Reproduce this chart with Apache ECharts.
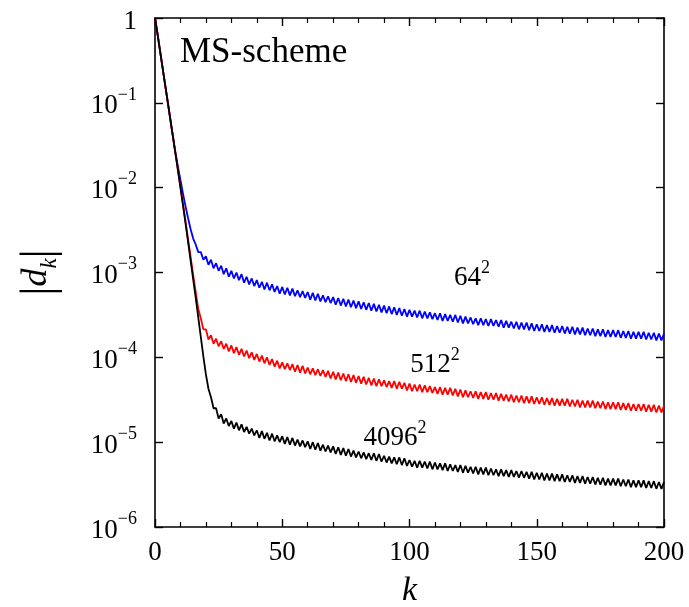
<!DOCTYPE html>
<html>
<head>
<meta charset="utf-8">
<script src="https://cdn.jsdelivr.net/npm/echarts@6/dist/echarts.min.js"></script>
<style>html,body{margin:0;padding:0;background:#fff}#c{width:689px;height:607px}</style>
</head>
<body>
<div id="c"></div>
<script>
// log10 |d_k|, k = 0..200
const log10Blue64 = [
  0,-0.19,-0.39,-0.59,-0.79,-0.99,-1.19,-1.39,-1.58,-1.75,
  -1.91,-2.07,-2.22,-2.36,-2.49,-2.60,-2.67,-2.76,-2.76,-2.85,
  -2.81,-2.91,-2.85,-2.95,-2.89,-2.98,-2.92,-3.02,-2.95,-3.05,
  -2.98,-3.07,-3.00,-3.09,-3.02,-3.12,-3.05,-3.14,-3.07,-3.16,
  -3.09,-3.18,-3.11,-3.20,-3.12,-3.21,-3.14,-3.23,-3.16,-3.25,
  -3.17,-3.26,-3.18,-3.27,-3.19,-3.28,-3.21,-3.29,-3.22,-3.30,
  -3.23,-3.32,-3.24,-3.33,-3.25,-3.34,-3.27,-3.35,-3.28,-3.36,
  -3.29,-3.38,-3.30,-3.39,-3.31,-3.40,-3.32,-3.41,-3.33,-3.42,
  -3.34,-3.43,-3.35,-3.44,-3.36,-3.45,-3.37,-3.46,-3.38,-3.47,
  -3.39,-3.48,-3.40,-3.49,-3.41,-3.50,-3.42,-3.51,-3.43,-3.52,
  -3.44,-3.52,-3.45,-3.53,-3.45,-3.54,-3.46,-3.54,-3.47,-3.55,
  -3.48,-3.56,-3.48,-3.57,-3.49,-3.57,-3.50,-3.58,-3.50,-3.59,
  -3.51,-3.60,-3.52,-3.60,-3.53,-3.61,-3.54,-3.62,-3.54,-3.62,
  -3.55,-3.63,-3.55,-3.63,-3.56,-3.64,-3.56,-3.65,-3.57,-3.65,
  -3.58,-3.66,-3.58,-3.67,-3.59,-3.67,-3.59,-3.68,-3.60,-3.69,
  -3.61,-3.69,-3.61,-3.70,-3.62,-3.70,-3.62,-3.71,-3.63,-3.71,
  -3.63,-3.72,-3.64,-3.72,-3.64,-3.73,-3.65,-3.73,-3.65,-3.74,
  -3.66,-3.74,-3.66,-3.75,-3.67,-3.75,-3.67,-3.76,-3.68,-3.76,
  -3.68,-3.76,-3.68,-3.77,-3.69,-3.77,-3.69,-3.78,-3.70,-3.78,
  -3.70,-3.78,-3.70,-3.79,-3.71,-3.79,-3.71,-3.80,-3.72,-3.80,
  -3.72
];
const log10Red512 = [
  0,-0.19,-0.39,-0.59,-0.79,-0.99,-1.19,-1.39,-1.59,-1.79,
  -1.99,-2.19,-2.40,-2.61,-2.82,-3.03,-3.23,-3.43,-3.54,-3.67,
  -3.67,-3.79,-3.74,-3.84,-3.78,-3.87,-3.81,-3.90,-3.84,-3.93,
  -3.86,-3.95,-3.88,-3.97,-3.90,-3.99,-3.92,-4.01,-3.94,-4.03,
  -3.96,-4.05,-3.98,-4.07,-4.00,-4.09,-4.02,-4.11,-4.04,-4.13,
  -4.06,-4.14,-4.07,-4.15,-4.08,-4.17,-4.09,-4.18,-4.10,-4.19,
  -4.12,-4.20,-4.13,-4.21,-4.14,-4.22,-4.15,-4.23,-4.16,-4.25,
  -4.17,-4.26,-4.18,-4.27,-4.19,-4.28,-4.20,-4.29,-4.21,-4.30,
  -4.22,-4.31,-4.23,-4.32,-4.24,-4.33,-4.25,-4.34,-4.26,-4.34,
  -4.27,-4.35,-4.28,-4.36,-4.28,-4.37,-4.29,-4.37,-4.30,-4.39,
  -4.31,-4.40,-4.32,-4.40,-4.32,-4.41,-4.33,-4.41,-4.34,-4.42,
  -4.35,-4.43,-4.35,-4.44,-4.36,-4.44,-4.36,-4.45,-4.37,-4.46,
  -4.38,-4.47,-4.39,-4.47,-4.40,-4.48,-4.40,-4.49,-4.41,-4.49,
  -4.41,-4.50,-4.42,-4.50,-4.42,-4.51,-4.43,-4.51,-4.44,-4.52,
  -4.44,-4.53,-4.45,-4.53,-4.45,-4.54,-4.46,-4.54,-4.46,-4.55,
  -4.47,-4.55,-4.47,-4.56,-4.48,-4.56,-4.48,-4.57,-4.49,-4.57,
  -4.49,-4.57,-4.49,-4.58,-4.50,-4.58,-4.50,-4.59,-4.51,-4.59,
  -4.51,-4.59,-4.51,-4.60,-4.52,-4.60,-4.52,-4.61,-4.53,-4.61,
  -4.53,-4.61,-4.53,-4.62,-4.54,-4.62,-4.54,-4.63,-4.55,-4.63,
  -4.55,-4.63,-4.55,-4.64,-4.56,-4.64,-4.56,-4.65,-4.57,-4.65,
  -4.57
];
const log10Black4096 = [
  0,-0.19,-0.39,-0.59,-0.79,-0.99,-1.19,-1.39,-1.59,-1.79,
  -2.00,-2.21,-2.42,-2.64,-2.86,-3.08,-3.30,-3.53,-3.76,-3.99,
  -4.20,-4.37,-4.47,-4.60,-4.60,-4.72,-4.67,-4.78,-4.72,-4.81,
  -4.75,-4.84,-4.77,-4.86,-4.79,-4.88,-4.82,-4.90,-4.84,-4.92,
  -4.86,-4.95,-4.87,-4.96,-4.89,-4.98,-4.90,-4.99,-4.92,-5.00,
  -4.93,-5.02,-4.94,-5.03,-4.95,-5.04,-4.97,-5.05,-4.98,-5.06,
  -4.99,-5.08,-5.00,-5.09,-5.01,-5.10,-5.03,-5.11,-5.04,-5.12,
  -5.05,-5.14,-5.06,-5.15,-5.07,-5.16,-5.08,-5.17,-5.10,-5.18,
  -5.11,-5.19,-5.12,-5.20,-5.13,-5.21,-5.13,-5.22,-5.14,-5.23,
  -5.16,-5.24,-5.17,-5.25,-5.18,-5.26,-5.18,-5.27,-5.19,-5.28,
  -5.21,-5.29,-5.22,-5.30,-5.22,-5.30,-5.23,-5.31,-5.23,-5.32,
  -5.24,-5.32,-5.25,-5.33,-5.25,-5.34,-5.26,-5.34,-5.27,-5.35,
  -5.27,-5.36,-5.28,-5.36,-5.29,-5.37,-5.29,-5.38,-5.30,-5.38,
  -5.30,-5.39,-5.31,-5.39,-5.32,-5.40,-5.32,-5.40,-5.33,-5.41,
  -5.33,-5.41,-5.34,-5.42,-5.34,-5.42,-5.35,-5.43,-5.35,-5.44,
  -5.36,-5.44,-5.36,-5.45,-5.37,-5.45,-5.37,-5.46,-5.38,-5.46,
  -5.38,-5.47,-5.39,-5.47,-5.39,-5.48,-5.40,-5.48,-5.40,-5.49,
  -5.41,-5.49,-5.41,-5.50,-5.42,-5.50,-5.42,-5.51,-5.43,-5.51,
  -5.43,-5.51,-5.43,-5.52,-5.44,-5.52,-5.44,-5.53,-5.45,-5.53,
  -5.45,-5.53,-5.45,-5.54,-5.46,-5.54,-5.46,-5.55,-5.47,-5.55,
  -5.47
];
const seriesNames = ['64', '512', '4096'];   // each shown squared: N²
const seriesColors = ['#0000ff', '#ff0000', '#000000'];
// annotation anchors [k, |d_k|]
const labelAnchors = [[124.6, 9.3e-4], [110, 8.8e-5], [94.3, 1.21e-5]];
const xTicks = [0, 50, 100, 150, 200];
const yDecades = [1e-6, 1e-5, 1e-4, 1e-3, 1e-2, 1e-1, 1];
const panelText = 'MS-scheme';

const FONT = 'Liberation Serif';
const toPairs = logs => logs.map((v, k) => [k, Math.pow(10, v)]);
const allLogs = [log10Blue64, log10Red512, log10Black4096];

function yFmt(v) {
  const e = Math.round(Math.log10(v));
  if (e === 0) return '{m|1}';
  return '{m|10}{s|−' + Math.abs(e) + '}';
}

const chart = echarts.init(document.getElementById('c'), null, {renderer: 'canvas'});
const axisLineStyle = {color: '#000', width: 1.6};
const tickStyle = {color: '#000', width: 1.4};
chart.setOption({
  animation: false,
  backgroundColor: '#fff',
  title: {
    text: panelText, left: 175, top: 30,
    textStyle: {fontFamily: FONT, fontSize: 35, fontWeight: 'normal', color: '#000'}
  },
  grid: {left: 155, right: 25, top: 18, bottom: 80, containLabel: false, outerBoundsMode: 'none'},
  xAxis: [{
    type: 'value', min: xTicks[0], max: xTicks[xTicks.length - 1], interval: 50,
    position: 'bottom',
    name: 'k', nameLocation: 'middle', nameGap: 47,
    nameTextStyle: {fontFamily: FONT, fontSize: 34, fontStyle: 'italic', color: '#000'},
    axisLine: {show: true, onZero: false, lineStyle: axisLineStyle},
    axisTick: {show: true, inside: true, length: 8, lineStyle: tickStyle},
    minorTick: {show: true, splitNumber: 5, length: 5, lineStyle: {color: '#000', width: 1.2}},
    axisLabel: {fontFamily: FONT, fontSize: 27, color: '#000', margin: 12},
    splitLine: {show: false}
  }, {
    type: 'value', min: 0, max: 200, interval: 50, position: 'top',
    axisLine: {show: true, onZero: false, lineStyle: axisLineStyle},
    axisTick: {show: true, inside: true, length: 8, lineStyle: tickStyle},
    minorTick: {show: true, splitNumber: 5, length: 5, lineStyle: {color: '#000', width: 1.2}},
    axisLabel: {show: false}, splitLine: {show: false}
  }],
  yAxis: [{
    type: 'log', logBase: 10, min: yDecades[0], max: yDecades[yDecades.length - 1],
    position: 'left',
    name: '{b||}{i|d}{k|k}{b||}', nameLocation: 'middle', nameGap: 94, nameRotate: 90,
    nameTextStyle: {
      color: '#000',
      rich: {
        b: {fontFamily: FONT, fontSize: 46, lineHeight: 42, verticalAlign: 'middle', color: '#000'},
        i: {fontFamily: FONT, fontSize: 36, fontStyle: 'italic', lineHeight: 42, verticalAlign: 'top', color: '#000'},
        k: {fontFamily: FONT, fontSize: 23, fontStyle: 'italic', lineHeight: 23, verticalAlign: 'bottom', color: '#000'}
      }
    },
    axisLine: {show: true, onZero: false, lineStyle: axisLineStyle},
    axisTick: {show: true, inside: true, length: 8, lineStyle: tickStyle},
    axisLabel: {
      margin: 18, formatter: yFmt,
      rich: {
        m: {fontFamily: FONT, fontSize: 27, lineHeight: 34, verticalAlign: 'bottom', color: '#000'},
        s: {fontFamily: FONT, fontSize: 18, lineHeight: 18, verticalAlign: 'top', color: '#000'}
      }
    },
    splitLine: {show: false}
  }, {
    type: 'log', logBase: 10, min: 1e-6, max: 1, position: 'right',
    axisLine: {show: true, onZero: false, lineStyle: axisLineStyle},
    axisTick: {show: true, inside: true, length: 8, lineStyle: tickStyle},
    axisLabel: {show: false}, splitLine: {show: false}
  }],
  series: allLogs.map((logs, i) => ({
    name: seriesNames[i] + '²',
    type: 'line',
    xAxisIndex: 0, yAxisIndex: 0,
    data: toPairs(logs),
    showSymbol: false, symbol: 'none',
    lineStyle: {color: seriesColors[i], width: 1.8},
    z: 2 + i,
    markPoint: {
      symbol: 'circle', symbolSize: 0,
      data: [{coord: labelAnchors[i]}],
      label: {
        show: true, position: 'inside',
        formatter: '{m|' + seriesNames[i] + '}{s|2}',
        rich: {
          m: {fontFamily: FONT, fontSize: 27, lineHeight: 32, verticalAlign: 'bottom', color: '#000'},
          s: {fontFamily: FONT, fontSize: 18, lineHeight: 18, verticalAlign: 'top', color: '#000'}
        }
      }
    }
  }))
});
</script>
</body>
</html>
